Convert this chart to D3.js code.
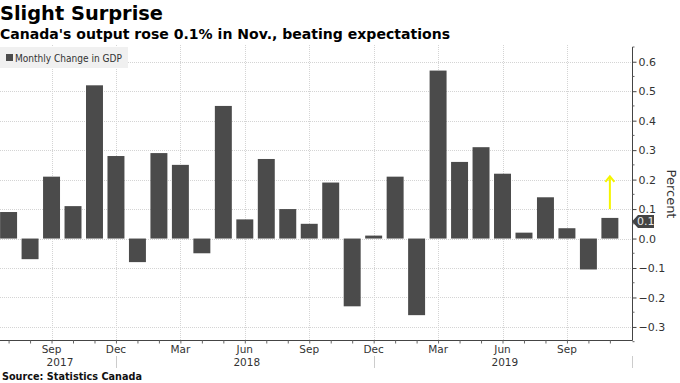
<!DOCTYPE html>
<html><head><meta charset="utf-8">
<script src="https://cdn.jsdelivr.net/npm/d3@7"></script>
<style>body{margin:0;background:#fff}svg{display:block}</style>
</head><body><svg id="c" width="680" height="383"></svg>
<script>
// ---- data ----
const months = ["2017-07","2017-08","2017-09","2017-10","2017-11","2017-12",
  "2018-01","2018-02","2018-03","2018-04","2018-05","2018-06","2018-07","2018-08","2018-09","2018-10","2018-11","2018-12",
  "2019-01","2019-02","2019-03","2019-04","2019-05","2019-06","2019-07","2019-08","2019-09","2019-10","2019-11"];
const values = [0.09,-0.07,0.21,0.11,0.52,0.28,-0.08,0.29,0.25,-0.05,0.45,0.065,0.27,0.1,0.05,0.19,-0.23,0.01,
  0.21,-0.26,0.57,0.26,0.31,0.22,0.02,0.14,0.035,-0.105,0.07];
const yTicks = [-0.3,-0.2,-0.1,0.0,0.1,0.2,0.3,0.4,0.5,0.6];
const quarterMonths = ["2017-09","2017-12","2018-03","2018-06","2018-09","2018-12","2019-03","2019-06","2019-09"];
const quarterLabels = ["Sep","Dec","Mar","Jun","Sep","Dec","Mar","Jun","Sep"];
const yearLabels = ["2017","2018","2019"];
const yearBreaks = ["2017-12","2018-12"];
const seriesName = "Monthly Change in GDP";
const title = "Slight Surprise";
const subtitle = "Canada's output rose 0.1% in Nov., beating expectations";
const source = "Source: Statistics Canada";
const arrowFrom = 0.1, arrowTo = 0.213;

// ---- layout ----
const L = 0, R = 632, T = 47, B = 340.5;
const svg = d3.select("#c");
const font = "'DejaVu Sans', sans-serif";
const idx = m => months.indexOf(m);
const x = d3.scaleLinear().domain([-0.4, 29.03]).range([L, R]);
const y = d3.scaleLinear().domain([-0.346, 0.65]).range([B, T]);
const step = x(1) - x(0);
const bw = step * 0.79;

// titles
svg.append("text").attr("x", 0).attr("y", 20).attr("font-family", font).attr("font-weight", "bold")
  .attr("font-size", 19).attr("fill", "#000").attr("textLength", 163).attr("lengthAdjust", "spacingAndGlyphs").text(title);
svg.append("text").attr("x", 0).attr("y", 39).attr("font-family", font).attr("font-weight", "bold")
  .attr("font-size", 14.5).attr("fill", "#000").attr("textLength", 450).attr("lengthAdjust", "spacingAndGlyphs").text(subtitle);

// grid
const g = svg.append("g");
g.selectAll("line.hg").data(yTicks).join("line").attr("class", "hg")
  .attr("x1", L).attr("x2", R).attr("y1", d => Math.round(y(d)) + 0.5).attr("y2", d => Math.round(y(d)) + 0.5)
  .attr("stroke", "#d4d4d4").attr("stroke-dasharray", "1,1");
g.selectAll("line.vg").data(quarterMonths).join("line").attr("class", "vg")
  .attr("x1", d => Math.round(x(idx(d))) + 0.5).attr("x2", d => Math.round(x(idx(d))) + 0.5)
  .attr("y1", T - 2).attr("y2", B).attr("stroke", "#d4d4d4").attr("stroke-dasharray", "1,1");

// legend
svg.append("rect").attr("x", 0).attr("y", 47).attr("width", 128).attr("height", 21).attr("fill", "#f0f0f0");
svg.append("rect").attr("x", 6).attr("y", 54).attr("width", 7).attr("height", 7).attr("fill", "#4b4b4b");
svg.append("text").attr("x", 15).attr("y", 61.5).attr("font-family", font).attr("font-size", 10)
  .attr("fill", "#333").attr("textLength", 107).attr("lengthAdjust", "spacingAndGlyphs").text(seriesName);

// bars
svg.append("g").selectAll("rect").data(values).join("rect")
  .attr("x", (d, i) => x(i) - bw / 2).attr("width", bw)
  .attr("y", d => y(Math.max(0, d))).attr("height", d => Math.abs(y(d) - y(0)))
  .attr("fill", "#4b4b4b");

// y axis (right)
const yAxis = svg.append("g").attr("transform", `translate(${R + 0.5},0)`)
  .call(d3.axisRight(y).tickValues(yTicks).tickFormat(d3.format(".1f")).tickSize(4).tickPadding(2));
yAxis.select(".domain").attr("stroke", "#444").attr("d", `M0,${T}V${B}`);
yAxis.selectAll(".tick line").attr("stroke", "#444");
yAxis.selectAll(".tick text").attr("font-family", font).attr("font-size", 11).attr("fill", "#333");
const minor = d3.range(-0.35, 0.651, 0.05).filter(v => Math.abs(Math.round(v * 10) / 10 - v) > 0.01);
yAxis.selectAll("line.minor").data(minor).join("line").attr("class", "minor")
  .attr("x1", 0).attr("x2", 2).attr("y1", d => y(d)).attr("y2", d => y(d)).attr("stroke", "#666");

svg.append("text").attr("transform", "translate(667,194) rotate(90)").attr("text-anchor", "middle")
  .attr("font-family", font).attr("font-size", 13).attr("fill", "#333").text("Percent");

// x axis
const xAxis = svg.append("g").attr("transform", `translate(0,${B})`)
  .call(d3.axisBottom(x).tickValues(d3.range(months.length)).tickFormat("").tickSize(3));
xAxis.select(".domain").attr("stroke", "#444").attr("d", `M${L},0H${R + 0.5}`);
xAxis.selectAll(".tick line").attr("stroke", "#666");
svg.append("g").selectAll("text").data(quarterMonths).join("text")
  .attr("x", d => x(idx(d))).attr("y", 353).attr("text-anchor", "middle")
  .attr("font-family", font).attr("font-size", 10.5).attr("fill", "#333")
  .text((d, i) => quarterLabels[i]);
const breaks = [L, ...yearBreaks.map(m => x(idx(m))), R];
svg.append("g").selectAll("line").data(breaks.slice(1)).join("line")
  .attr("x1", d => Math.round(d) + 0.5).attr("x2", d => Math.round(d) + 0.5)
  .attr("y1", 356).attr("y2", 368).attr("stroke", "#ccc");
svg.append("g").selectAll("text").data(yearLabels).join("text")
  .attr("x", (d, i) => (breaks[i] + breaks[i + 1]) / 2 + 2).attr("y", 366).attr("text-anchor", "middle")
  .attr("font-family", font).attr("font-size", 10.5).attr("fill", "#333").text(d => d);

// value badge
const last = values.length - 1;
const yc = y(values[last]) + 3.5;
svg.append("path").attr("d", `M${R},${yc} L${R + 6},${yc - 6.5} H${R + 22} V${yc + 6.5} H${R + 6} Z`).attr("fill", "#444");
svg.append("text").attr("x", R + 5).attr("y", yc + 4).attr("font-family", font).attr("font-size", 11)
  .attr("fill", "#e8e8e8").text(d3.format(".1f")(values[last]));

// yellow arrow
const ax = x(last);
svg.append("line").attr("x1", ax).attr("x2", ax).attr("y1", y(arrowFrom)).attr("y2", y(arrowTo) + 1)
  .attr("stroke", "#f5f500").attr("stroke-width", 2);
svg.append("path").attr("d", `M${ax - 4.5},${y(arrowTo) + 6} L${ax},${y(arrowTo) + 0.5} L${ax + 4.5},${y(arrowTo) + 6}`)
  .attr("fill", "none").attr("stroke", "#f5f500").attr("stroke-width", 2).attr("stroke-linejoin", "miter");

// source
svg.append("text").attr("x", 2).attr("y", 380).attr("font-family", font).attr("font-weight", "bold")
  .attr("font-size", 10.5).attr("fill", "#111").attr("textLength", 140).attr("lengthAdjust", "spacingAndGlyphs").text(source);
</script></body></html>
